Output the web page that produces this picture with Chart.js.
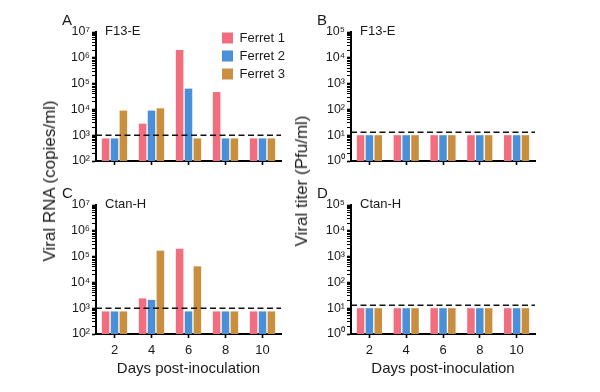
<!DOCTYPE html>
<html>
<head>
<meta charset="utf-8">
<script src="https://cdn.jsdelivr.net/npm/chart.js@4.4.1/dist/chart.umd.min.js"></script>
<style>
  html, body { margin: 0; padding: 0; background: #fff; }
  #wrap { position: relative; width: 600px; height: 392px; overflow: hidden;
          font-family: 'Liberation Sans', Arial, sans-serif; color: #1a1a1a; }
  #wrap canvas { position: absolute; }
  .ytitle { position: absolute; font-size: 17px; white-space: nowrap;
            transform: translate(-50%, -50%) rotate(-90deg); }
</style>
</head>
<body>
<div id="wrap">
  <canvas id="panelA" width="300" height="196" style="left:0;top:0"></canvas>
  <canvas id="panelB" width="300" height="196" style="left:300px;top:0"></canvas>
  <canvas id="panelC" width="300" height="216" style="left:0;top:176px"></canvas>
  <canvas id="panelD" width="300" height="216" style="left:300px;top:176px"></canvas>
  <div class="ytitle" style="left:50px;top:181px">Viral RNA (copies/ml)</div>
  <div class="ytitle" style="left:302px;top:181px">Viral titer (Pfu/ml)</div>
</div>
<script>
const days = ['2', '4', '6', '8', '10'];
const ferrets = ['Ferret 1', 'Ferret 2', 'Ferret 3'];
const colors = ['#f26d7d', '#4a90d8', '#c98f3f'];

// viral RNA (copies/ml), F13-E group
const rnaF13Ferret1 = [750, 2800, 2000000, 47000, 750];
const rnaF13Ferret2 = [750, 9000, 64000, 750, 750];
const rnaF13Ferret3 = [9000, 11000, 750, 750, 750];

// viral RNA (copies/ml), Ctan-H group
const rnaCtanFerret1 = [750, 2400, 200000, 750, 750];
const rnaCtanFerret2 = [750, 2100, 750, 750, 750];
const rnaCtanFerret3 = [750, 170000, 42000, 750, 750];

// viral titer (Pfu/ml), both groups below detection
const titerF13Ferret1 = [10, 10, 10, 10, 10];
const titerF13Ferret2 = [10, 10, 10, 10, 10];
const titerF13Ferret3 = [10, 10, 10, 10, 10];
const titerCtanFerret1 = [10, 10, 10, 10, 10];
const titerCtanFerret2 = [10, 10, 10, 10, 10];
const titerCtanFerret3 = [10, 10, 10, 10, 10];

const rnaLimit = 1000;
const titerLimit = 13;

// decades shown on the y axes (exponents)
const rnaDecades = [2, 3, 4, 5, 6, 7];
const titerDecades = [0, 1, 2, 3, 4, 5];

const sup = ['⁰', '¹', '²', '³', '⁴', '⁵', '⁶', '⁷', '⁸', '⁹'];
const ink = '#1a1a1a';
const fontFamily = "'Liberation Sans', Arial, sans-serif";

Chart.defaults.font.family = fontFamily;
Chart.defaults.color = ink;

const limitLine = {
  id: 'limitLine',
  afterDatasetsDraw(chart, args, opts) {
    const { ctx, chartArea: a } = chart;
    const y = chart.scales.y.getPixelForValue(opts.value);
    ctx.save();
    ctx.setLineDash([6, 3.5]);
    ctx.lineWidth = 1.6;
    ctx.strokeStyle = '#111';
    ctx.beginPath();
    ctx.moveTo(a.left, y);
    ctx.lineTo(a.right, y);
    ctx.stroke();
    ctx.restore();
  }
};

const panelText = {
  id: 'panelText',
  afterDraw(chart, args, opts) {
    const { ctx, chartArea: a } = chart;
    ctx.save();
    ctx.fillStyle = ink;
    ctx.textBaseline = 'middle';
    ctx.textAlign = 'left';
    ctx.font = '15px ' + fontFamily;
    ctx.fillText(opts.letter, a.left - 34, a.top - 11);
    ctx.font = '13px ' + fontFamily;
    ctx.fillText(opts.subtitle, a.left + 9, a.top - 1);
    ctx.restore();
  }
};

// put the legend inside the plot area, upper right
const legendSpot = {
  id: 'legendSpot',
  afterLayout(chart, args, opts) {
    const lg = chart.legend;
    if (!lg || !lg.options.display) return;
    const w = lg.width, h = lg.height;
    lg.left = opts.x; lg.right = opts.x + w;
    lg.top = opts.y; lg.bottom = opts.y + h;
  }
};

function yScale(decades) {
  const lo = decades[0], hi = decades[decades.length - 1];
  return {
    type: 'logarithmic',
    min: Math.pow(10, lo),
    max: Math.pow(10, hi),
    z: 1,
    border: { color: '#000', width: 2 },
    grid: {
      drawOnChartArea: false, color: '#000', tickLength: 4,
      tickWidth: c => (c.tick && c.tick.major ? 1.6 : 1)
    },
    afterBuildTicks: s => {
      const t = [];
      decades.forEach(e => {
        if (e === hi) { t.push({ value: Math.pow(10, e), major: true }); return; }
        for (let k = 1; k < 10; k++) t.push({ value: k * Math.pow(10, e), major: k === 1 });
      });
      s.ticks = t;
    },
    ticks: {
      autoSkip: false, padding: 2, color: ink, font: { size: 12.5 },
      callback: (v, i, t) => {
        if (!t[i].major) return '';
        const e = Math.round(Math.log10(v));
        return '10' + String(e).split('').map(d => sup[+d]).join('');
      }
    },
    afterFit: s => { s.width = 40; }
  };
}

function xScale(showLabels) {
  return {
    z: 1,
    border: { color: '#000', width: 2 },
    grid: { drawOnChartArea: false, offset: false, color: '#000', tickLength: 4, tickWidth: 1.6 },
    ticks: { display: showLabels, color: ink, padding: 5, maxRotation: 0, font: { size: 13 } },
    title: {
      display: showLabels, text: 'Days post-inoculation', color: ink,
      font: { size: 15 }, padding: { top: 0, bottom: 8 }
    },
    afterFit: s => { s.height = showLabels ? 52 : 6; }
  };
}

function makePanel(id, series, decades, limit, letter, subtitle, padding, withLegend, bottomRow) {
  new Chart(document.getElementById(id), {
    type: 'bar',
    data: {
      labels: days,
      datasets: series.map((d, i) => ({
        label: ferrets[i],
        data: d,
        backgroundColor: colors[i],
        borderWidth: 0,
        barPercentage: 0.85,
        categoryPercentage: 0.72
      }))
    },
    options: {
      responsive: false,
      animation: false,
      layout: { padding: padding },
      scales: { x: xScale(bottomRow), y: yScale(decades) },
      plugins: {
        tooltip: { enabled: false },
        legend: {
          display: withLegend,
          position: 'chartArea',
          align: 'start',
          labels: { boxWidth: 11, boxHeight: 11, padding: 5, color: ink, font: { size: 13 } }
        },
        legendSpot: { x: 217, y: 26.5 },
        limitLine: { value: limit },
        panelText: { letter: letter, subtitle: subtitle }
      }
    },
    plugins: [limitLine, panelText, legendSpot]
  });
}

makePanel('panelA', [rnaF13Ferret1, rnaF13Ferret2, rnaF13Ferret3], rnaDecades, rnaLimit,
  'A', 'F13-E', { left: 56, right: 19, top: 32, bottom: 29 }, true, false);
makePanel('panelB', [titerF13Ferret1, titerF13Ferret2, titerF13Ferret3], titerDecades, titerLimit,
  'B', 'F13-E', { left: 11, right: 65, top: 32, bottom: 29 }, false, false);
makePanel('panelC', [rnaCtanFerret1, rnaCtanFerret2, rnaCtanFerret3], rnaDecades, rnaLimit,
  'C', 'Ctan-H', { left: 56, right: 19, top: 29, bottom: 6 }, false, true);
makePanel('panelD', [titerCtanFerret1, titerCtanFerret2, titerCtanFerret3], titerDecades, titerLimit,
  'D', 'Ctan-H', { left: 11, right: 65, top: 29, bottom: 6 }, false, true);
</script>
</body>
</html>
